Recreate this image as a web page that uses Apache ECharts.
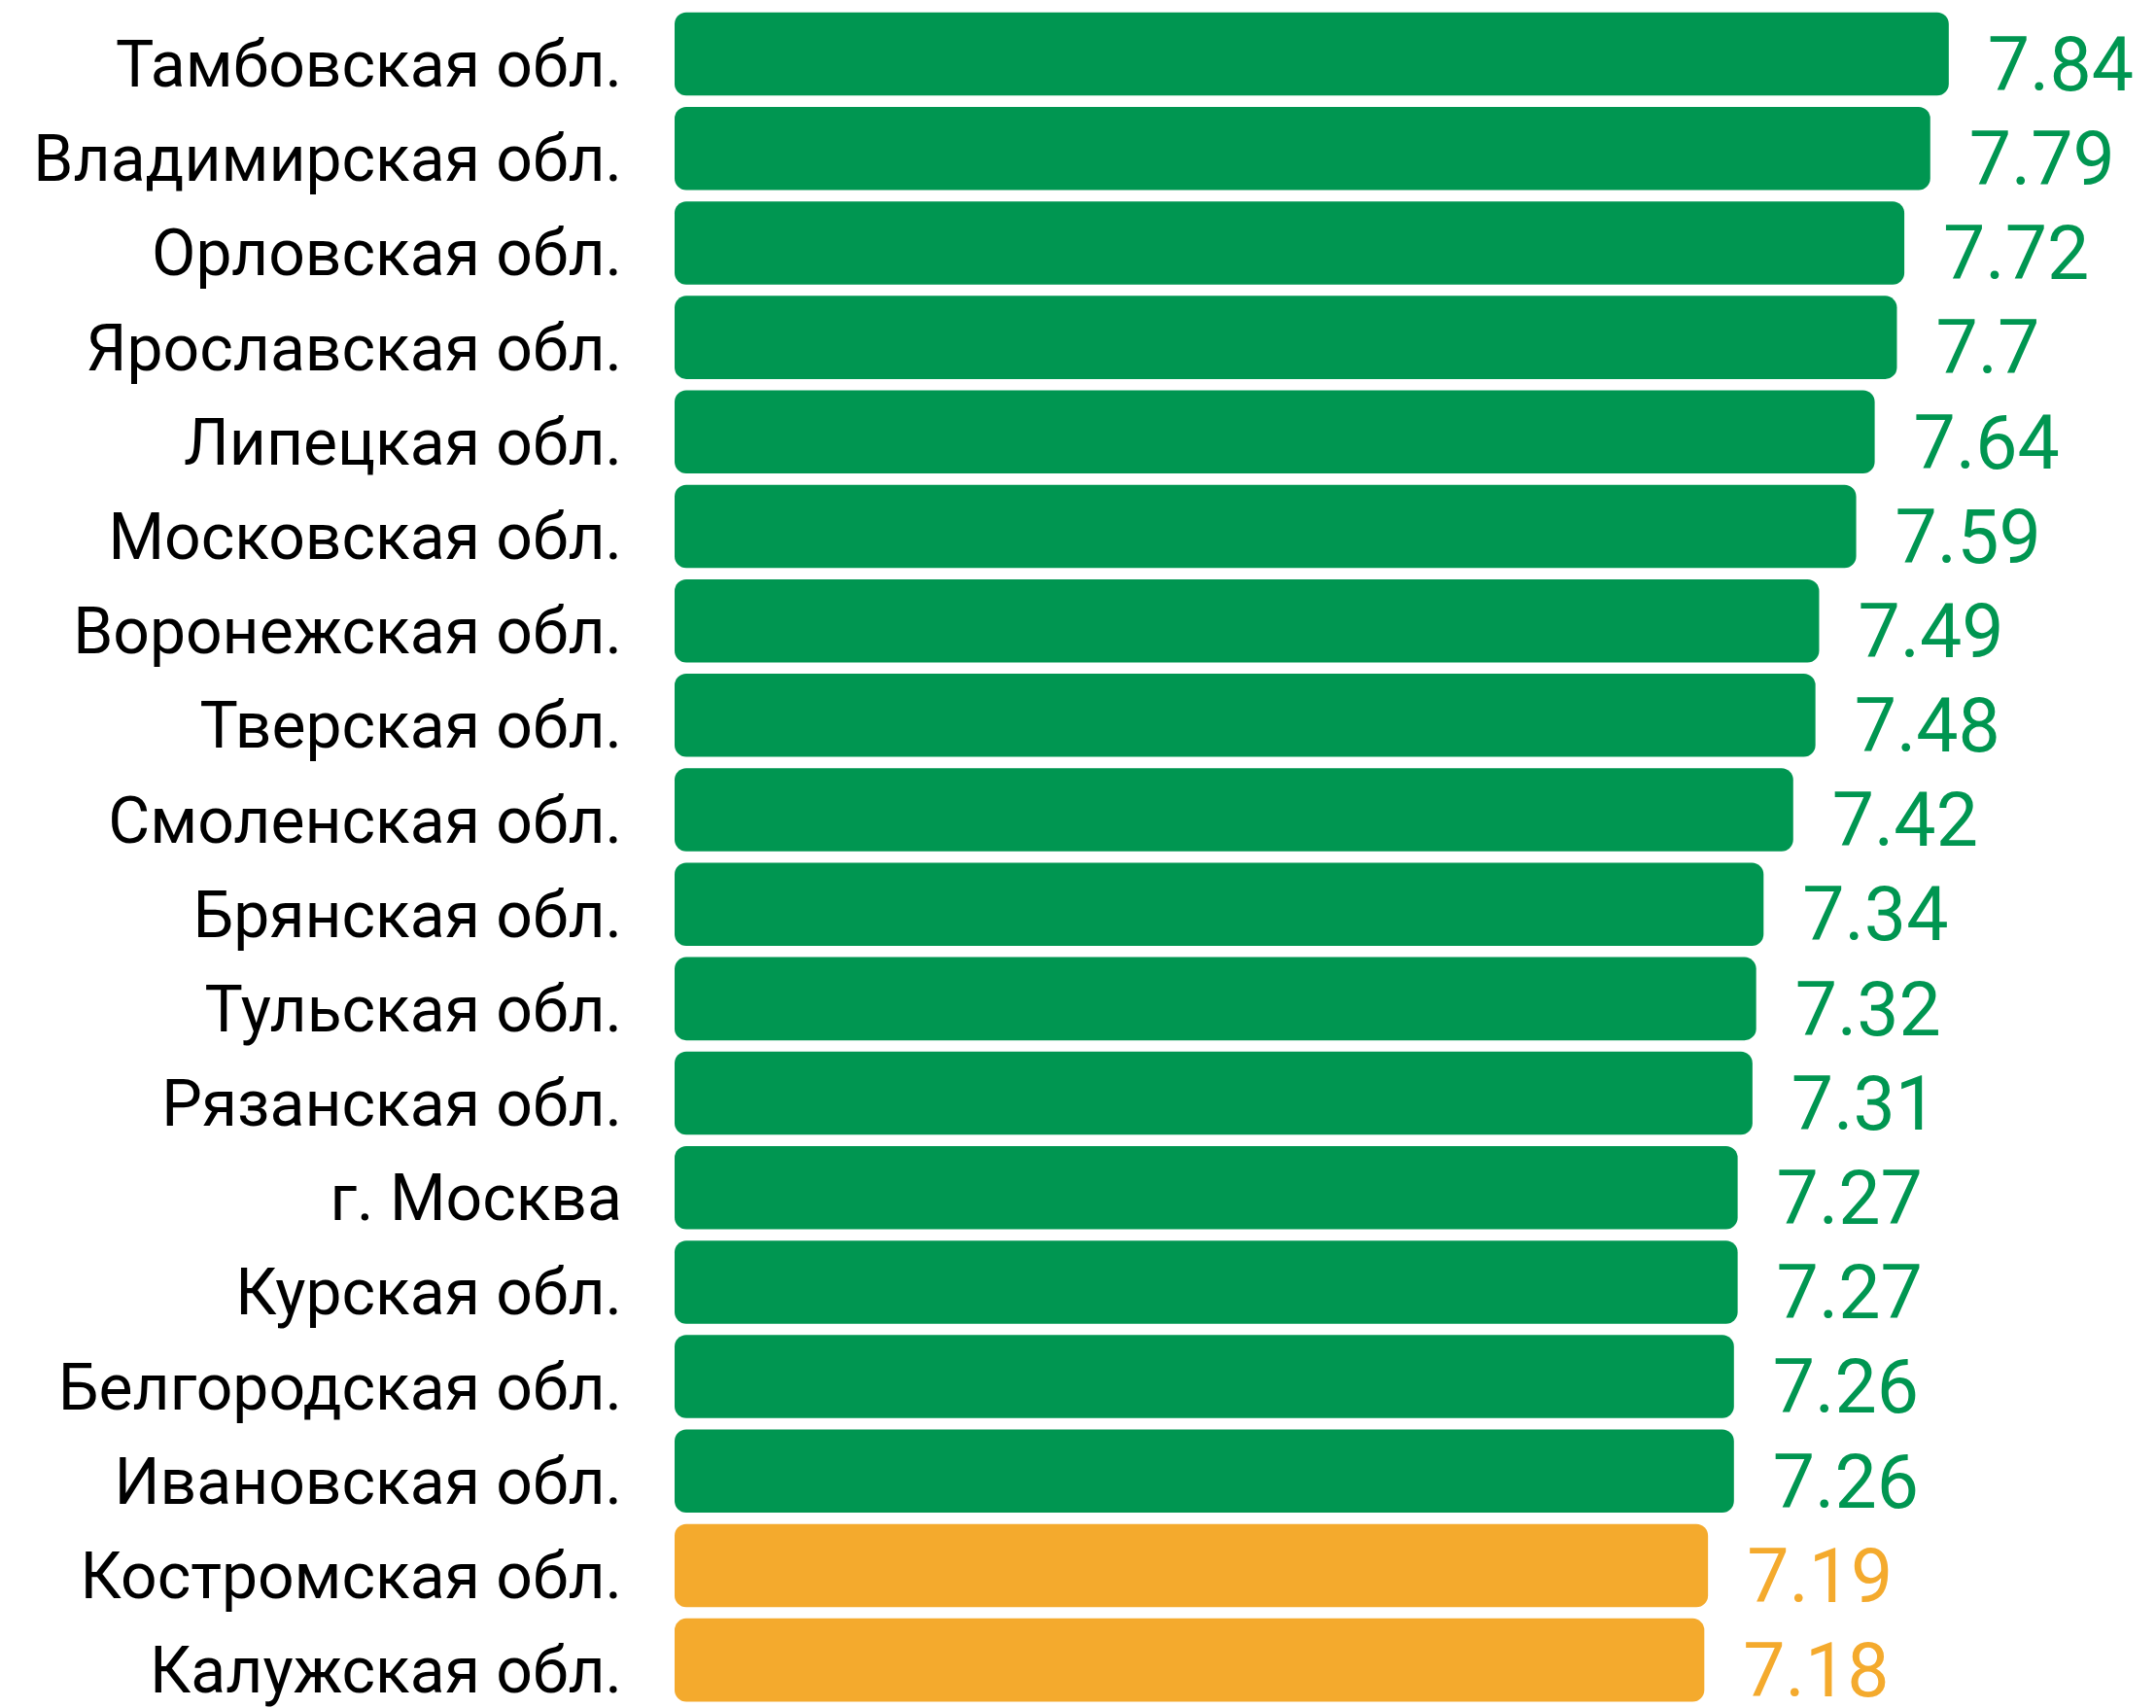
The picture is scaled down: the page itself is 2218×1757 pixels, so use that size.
<!DOCTYPE html>
<html>
<head>
<meta charset="utf-8">
<script src="https://cdn.jsdelivr.net/npm/echarts@6/dist/echarts.min.js"></script>
<style>
  html, body { margin: 0; padding: 0; background: #fff; }
  #chart { width: 2218px; height: 1757px; }
</style>
</head>
<body>
<div id="chart"></div>
<script>
// Regions, top to bottom
const regions = [
  'Тамбовская обл.', 'Владимирская обл.', 'Орловская обл.', 'Ярославская обл.',
  'Липецкая обл.', 'Московская обл.', 'Воронежская обл.', 'Тверская обл.',
  'Смоленская обл.', 'Брянская обл.', 'Тульская обл.', 'Рязанская обл.',
  'г. Москва', 'Курская обл.', 'Белгородская обл.', 'Ивановская обл.',
  'Костромская обл.', 'Калужская обл.'
]
const scores = [
  7.84, 7.79, 7.72, 7.7, 7.64, 7.59, 7.49, 7.48, 7.42,
  7.34, 7.32, 7.31, 7.27, 7.27, 7.26, 7.26, 7.19, 7.18
]
// which group each region falls in
const tiers = [
  'high', 'high', 'high', 'high', 'high', 'high', 'high', 'high', 'high',
  'high', 'high', 'high', 'high', 'high', 'high', 'high', 'low', 'low'
]

const tierColor = { high: '#009651', low: '#F4AA2D' }

const chart = echarts.init(document.getElementById('chart'))

chart.setOption({
  animation: false,
  grid: { left: 694, top: 7, width: 1448, height: 1772 },
  xAxis: {
    type: 'value',
    min: 4.4,
    max: 8.2,
    show: false
  },
  yAxis: {
    type: 'category',
    data: regions,
    inverse: true,
    axisLine: { show: false },
    axisTick: { show: false },
    axisLabel: {
      margin: 54,
      // rich block with top padding nudges the text down a little
      formatter: v => `{n|${v}}`,
      rich: {
        n: {
          color: '#000',
          fontFamily: 'Roboto',
          fontSize: 66,
          padding: [34, 0, 0, 0]
        }
      }
    }
  },
  series: [
    {
      type: 'bar',
      barCategoryGap: '12%',
      data: scores.map((v, i) => ({
        value: v,
        itemStyle: { color: tierColor[tiers[i]] },
        label: { color: tierColor[tiers[i]] }
      })),
      itemStyle: { borderRadius: 12 },
      label: {
        show: true,
        position: 'right',
        distance: 40,
        offset: [0, 18],
        fontFamily: 'Roboto',
        fontSize: 77
      }
    }
  ]
})
</script>
</body>
</html>
